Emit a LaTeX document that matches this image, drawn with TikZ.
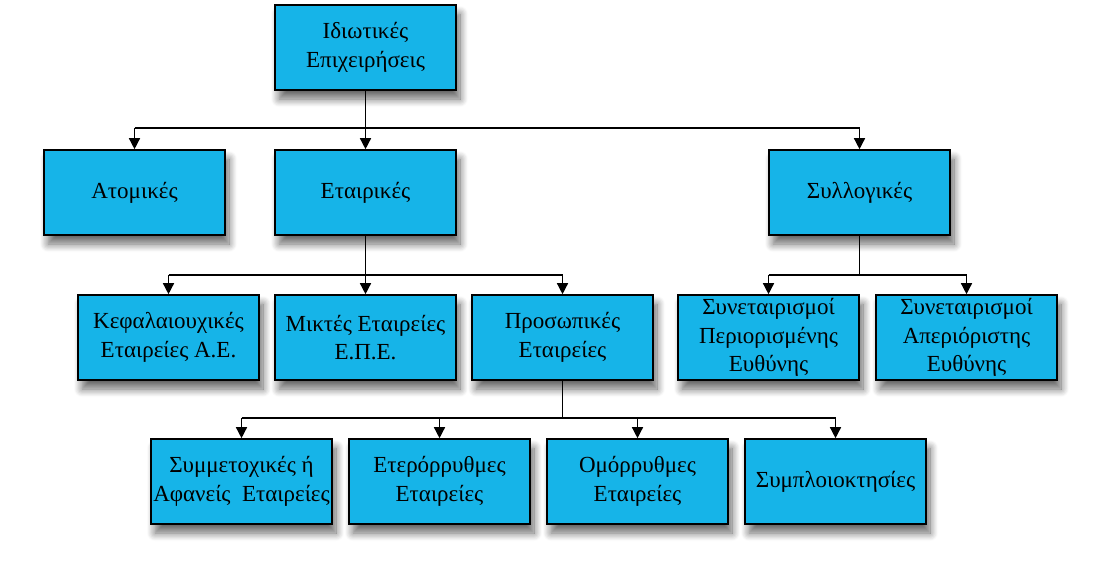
\documentclass[tikz,border=0pt]{standalone}
\usepackage{fontspec}
\setmainfont{Liberation Serif}
\usetikzlibrary{arrows.meta,shadows.blur}
\definecolor{boxblue}{RGB}{22,180,232}
\tikzset{
  box/.style={draw=black, line width=1.6pt, fill=boxblue, minimum width=181pt, minimum height=85pt,
    inner sep=0pt, align=center, font=\fontsize{23}{28.5}\selectfont,
    blur shadow={shadow xshift=4pt, shadow yshift=-9pt, shadow blur steps=10, shadow opacity=60, shadow blur radius=8pt}},
  conn/.style={line width=1.4pt, draw=black},
  arr/.style={conn, -{Triangle[length=11pt,width=11pt]}}
}
\begin{document}
\begin{tikzpicture}[x=1pt,y=-1pt]
\useasboundingbox (0,0) rectangle (1110,576);
% row 1
\node[box] (root) at (365.5,47.5) {Ιδιωτικές\\Επιχειρήσεις};
% row 2
\node[box] (atom) at (134.5,192.5) {Ατομικές};
\node[box] (etair) at (365.5,192.5) {Εταιρικές};
\node[box] (syll) at (859.5,192.5) {Συλλογικές};
% row 3
\node[box] (kef) at (168.5,337.5) {Κεφαλαιουχικές\\Εταιρείες Α.Ε.};
\node[box] (mikt) at (365.5,337.5) {Μικτές Εταιρείες\\Ε.Π.Ε.};
\node[box] (pros) at (562.5,337.5) {Προσωπικές\\Εταιρείες};
\node[box] (synp) at (768.5,337.5) {Συνεταιρισμοί\\Περιορισμένης\\Ευθύνης};
\node[box] (syna) at (966.5,337.5) {Συνεταιρισμοί\\Απεριόριστης\\Ευθύνης};
% row 4
\node[box] (symm) at (241.5,481.5) {Συμμετοχικές ή\\Αφανείς\ \ Εταιρείες};
\node[box] (eter) at (439.5,481.5) {Ετερόρρυθμες\\Εταιρείες};
\node[box] (omor) at (637.5,481.5) {Ομόρρυθμες\\Εταιρείες};
\node[box] (sympl) at (835.5,481.5) {Συμπλοιοκτησίες};
% connectors level 1
\coordinate (j1) at (365.5,128);
\draw[conn] (root.south) -- (j1);
\draw[conn] (atom.north |- j1) -- (syll.north |- j1);
\draw[arr] (atom.north |- j1) -- (atom.north);
\draw[arr] (j1) -- (etair.north);
\draw[arr] (syll.north |- j1) -- (syll.north);
% level 2 from Εταιρικές
\coordinate (j2) at (365.5,275);
\draw[conn] (etair.south) -- (j2);
\draw[conn] (kef.north |- j2) -- (pros.north |- j2);
\draw[arr] (kef.north |- j2) -- (kef.north);
\draw[arr] (j2) -- (mikt.north);
\draw[arr] (pros.north |- j2) -- (pros.north);
% level 2 from Συλλογικές
\coordinate (j3) at (859.5,275);
\draw[conn] (syll.south) -- (j3);
\draw[conn] (synp.north |- j3) -- (syna.north |- j3);
\draw[arr] (synp.north |- j3) -- (synp.north);
\draw[arr] (syna.north |- j3) -- (syna.north);
% level 3 from Προσωπικές
\coordinate (j4) at (562.5,418);
\draw[conn] (pros.south) -- (j4);
\draw[conn] (symm.north |- j4) -- (sympl.north |- j4);
\draw[arr] (symm.north |- j4) -- (symm.north);
\draw[arr] (eter.north |- j4) -- (eter.north);
\draw[arr] (omor.north |- j4) -- (omor.north);
\draw[arr] (sympl.north |- j4) -- (sympl.north);
\end{tikzpicture}
\end{document}
